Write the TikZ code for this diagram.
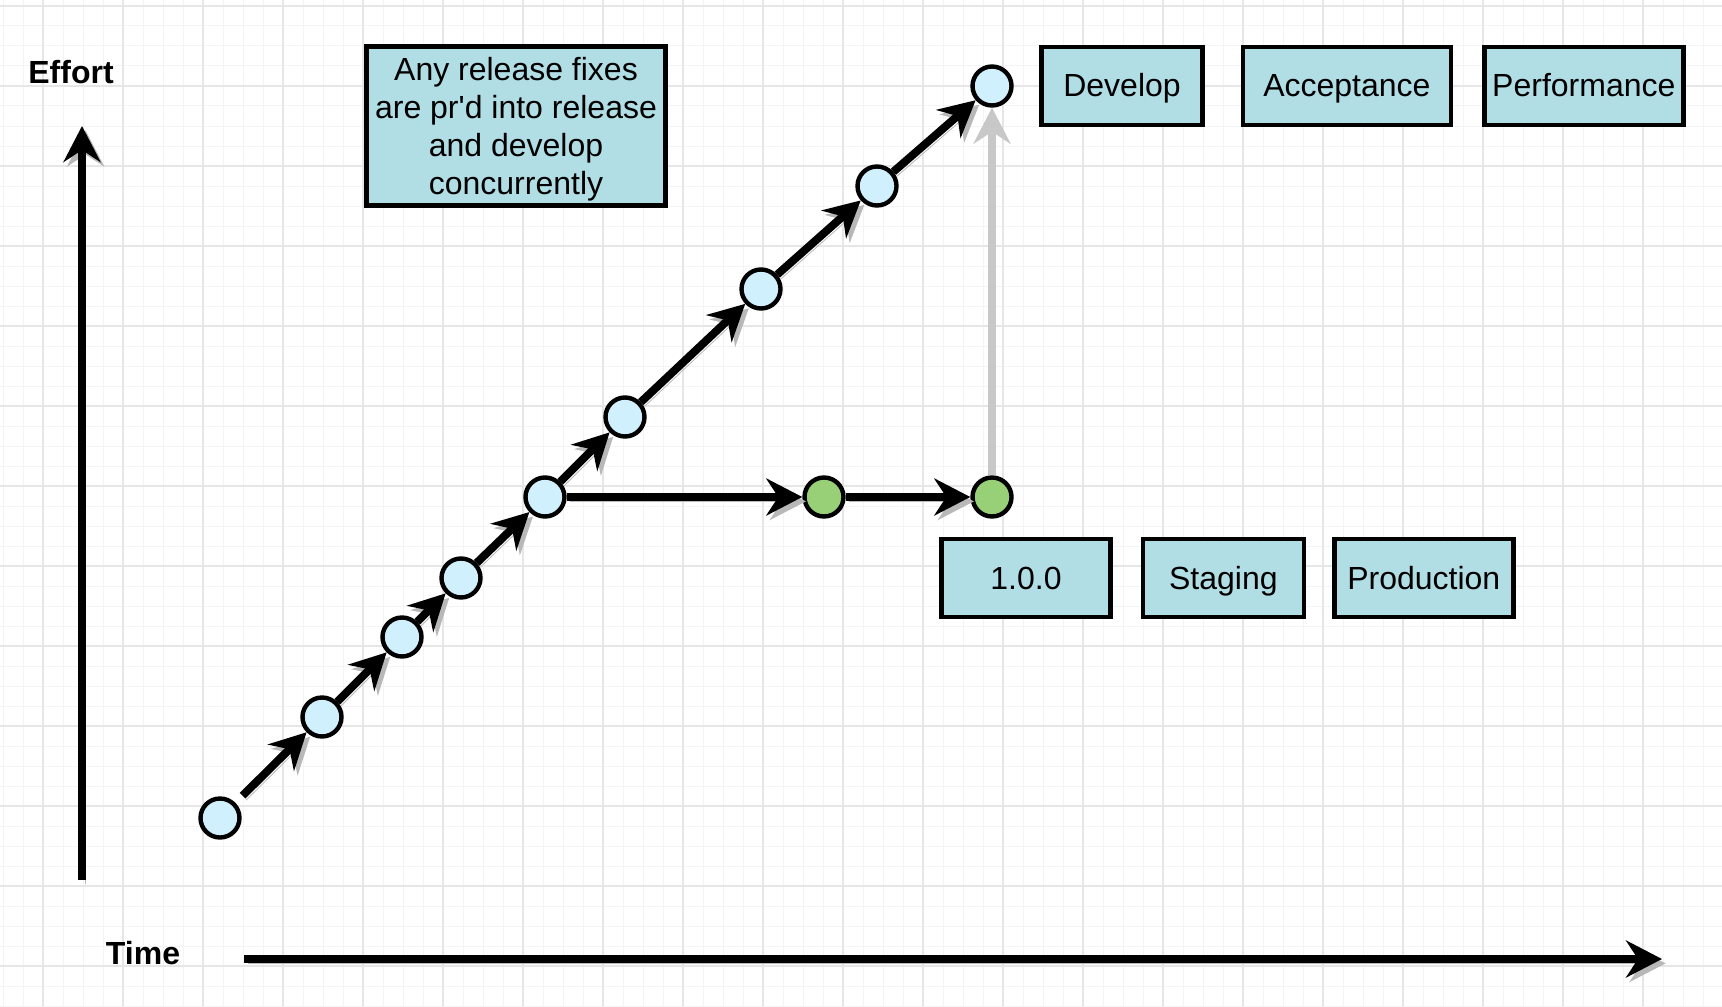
\documentclass[tikz,border=0pt]{standalone}
\usepackage{fontspec}
\setmainfont{Liberation Sans}
\usetikzlibrary{arrows.meta, positioning}

\definecolor{boxblue}{HTML}{B1DDE5}
\definecolor{dotblue}{HTML}{CFF0FC}
\definecolor{dotgreen}{HTML}{97D077}
\definecolor{gridminor}{HTML}{F4F4F4}
\definecolor{gridmajor}{HTML}{E6E6E6}
\definecolor{shade}{HTML}{B8B8B8}
\definecolor{mergegray}{HTML}{C8C8C8}

\begin{document}
\begin{tikzpicture}[
    x=0.5pt, y=-0.5pt,
    stage/.style={rectangle, draw, line width=2.2pt, fill=boxblue, minimum height=39pt, inner sep=0pt, text height=11.5pt, text depth=0.5pt, font=\fontsize{16}{19}\selectfont},
    commit/.style={circle, draw, line width=2.2pt, fill=dotblue, minimum size=19.5pt, inner sep=0pt},
    fix/.style={commit, fill=dotgreen},
    axislabel/.style={font=\fontsize{16}{19}\selectfont\bfseries},
    tip/.style={-{Stealth[length=18pt, width=18.5pt, inset=6pt]}},
    arrow/.style={line width=4pt, tip, preaction={draw=shade, transform canvas={shift={(1.8pt,-2.2pt)}}}},
    merge/.style={line width=4pt, tip, draw=mergegray}
]
    % Background grid
    \useasboundingbox (0,0) rectangle (1722,1006);
    \fill[white] (0,0) rectangle (1722,1006);
    \foreach \gx in {3,23,...,1722}
        \draw[gridminor, line width=0.5pt] (\gx,0) -- (\gx,1006);
    \foreach \gy in {6,26,...,1006}
        \draw[gridminor, line width=0.5pt] (0,\gy) -- (1722,\gy);
    \foreach \gx in {43,123,...,1722}
        \draw[gridmajor, line width=0.6pt] (\gx,0) -- (\gx,1006);
    \foreach \gy in {6,86,...,1006}
        \draw[gridmajor, line width=0.6pt] (0,\gy) -- (1722,\gy);

    % Axes
    \node[axislabel] (effort) at (71,72) {Effort};
    \node[axislabel] (time) at (143,953) {Time};
    \coordinate (ybase) at (82,880);
    \coordinate (ytop) at (82,126);
    \coordinate (xbase) at (244,959);
    \coordinate (xtip) at (1662,959);
    \draw[arrow] (ybase) -- (ytop);
    \draw[arrow] (xbase) -- (xtip);

    % Develop commits
    \node[commit] (c1) at (220,818) {};
    \node[commit] (c2) at (322,717) {};
    \node[commit] (c3) at (402,637) {};
    \node[commit] (c4) at (461,578) {};
    \node[commit] (c5) at (545,497) {};
    \node[commit] (c6) at (625,417) {};
    \node[commit] (c7) at (761,289) {};
    \node[commit] (c8) at (877,186) {};
    \node[commit] (c9) at (992,86) {};

    % Release commits
    \node[fix] (r1) at (824,497) {};
    \node[fix] (r2) at (992,497) {};

    % Boxes
    \node[stage, align=center, minimum width=149.5pt, minimum height=79.5pt, text height=, text depth=0pt] (note) at (516,126)
        {Any release fixes\\are pr\textquotesingle d into release\\and develop\\concurrently};
    \node[stage, minimum width=80.5pt] (develop) at (1122,86) {Develop};
    \node[stage, minimum width=104pt, right=18pt of develop] (acceptance) {Acceptance};
    \node[stage, minimum width=99.5pt, right=14.5pt of acceptance] (performance) {Performance};
    \node[stage, minimum width=84.5pt] (version) at (1026,578) {1.0.0};
    \node[stage, minimum width=80.5pt, right=14pt of version] (staging) {Staging};
    \node[stage, minimum width=89.5pt, right=13pt of staging] (production) {Production};

    % Arrows
    \draw[arrow, shorten <=5pt] (c1) -- (c2);
    \draw[arrow] (c2) -- (c3);
    \draw[arrow] (c3) -- (c4);
    \draw[arrow] (c4) -- (c5);
    \draw[arrow] (c5) -- (c6);
    \draw[arrow] (c6) -- (c7);
    \draw[arrow] (c7) -- (c8);
    \draw[arrow] (c8) -- (c9);
    \draw[arrow] (c5) -- (r1);
    \draw[arrow] (r1) -- (r2);
    \draw[merge] (r2) -- (c9);
\end{tikzpicture}
\end{document}
